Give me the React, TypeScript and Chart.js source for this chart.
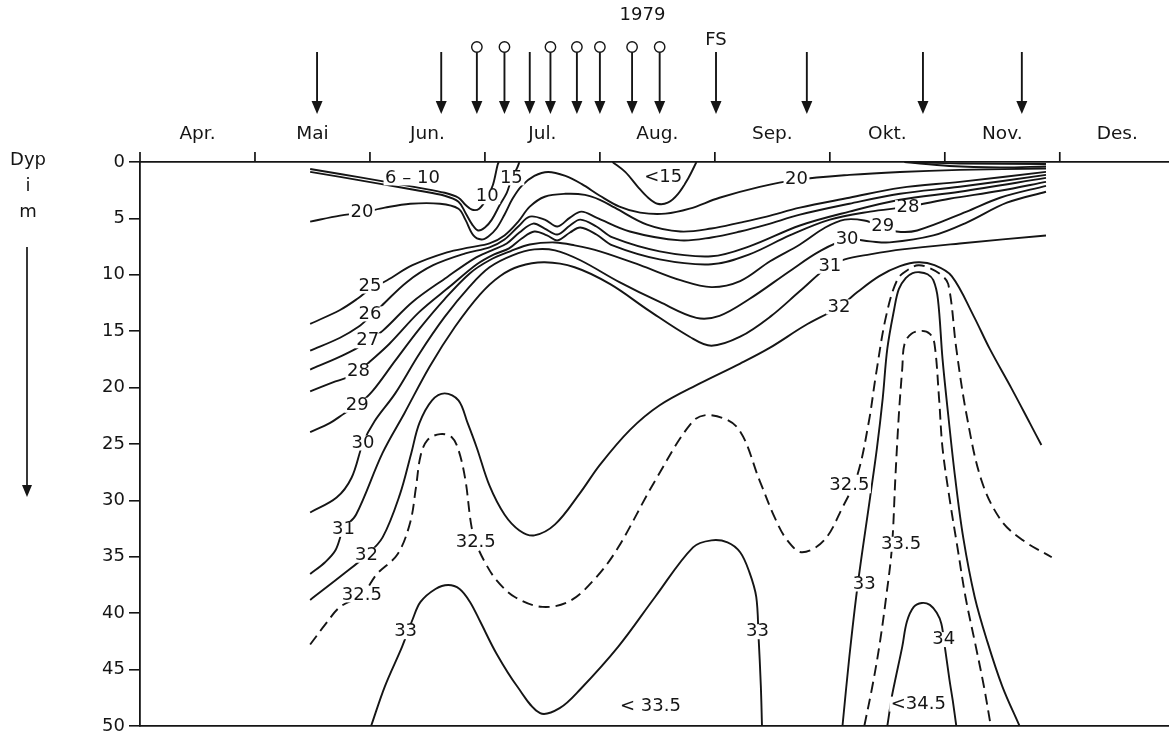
import { useEffect, useRef } from "react";
import { Chart, registerables } from "chart.js";

Chart.register(...registerables);

type Pt = [number, number];

const FONT = '"DejaVu Sans", "Liberation Sans", Arial, sans-serif';
const INK = "#151515";

// x = months after 1 April 1979 (0 = 1 Apr), y = depth in metres
const monthLabels = ["Apr.", "Mai", "Jun.", "Jul.", "Aug.", "Sep.", "Okt.", "Nov.", "Des."];
const monthCenters = [0.5, 1.5, 2.5, 3.5, 4.5, 5.5, 6.5, 7.5, 8.5];
const monthBoundaries = [0, 1, 2, 3, 4, 5, 6, 7, 8];
const xAxisMax = 8.95;
const depthMax = 50;
const depthStep = 5;

// sampling trips (arrows); ring = trips marked with a circle
const plainArrowDates = [1.54, 2.62, 3.39, 5.01, 5.8, 6.81, 7.67];
const ringArrowDates = [2.93, 3.17, 3.57, 3.8, 4.0, 4.28, 4.52];
const fsDate = 5.01;
const yearDate = 4.37;
const yearLabel = "1979";
const yAxisTitle = ["Dyp", "i", "m"];

// salinity isolines (month, depth)
const sal10: Pt[] = [[1.48,0.62],[1.74,1.06],[2.09,1.67],[2.43,2.29],[2.65,2.73],[2.77,3.17],[2.83,3.79],[2.89,4.23],[2.95,4.14],[3.02,3.17],[3.07,2.02],[3.11,0.26],[3.12,0]];
const sal15: Pt[] = [[1.48,0.88],[1.74,1.32],[2.09,1.94],[2.43,2.55],[2.65,2.99],[2.77,3.52],[2.83,4.49],[2.89,5.55],[2.94,6.07],[3.0,5.81],[3.06,5.11],[3.13,3.79],[3.19,2.73],[3.23,1.58],[3.28,0.53],[3.30,0]];
const sal15Pocket: Pt[] = [[4.11,0],[4.22,0.88],[4.33,2.2],[4.42,3.17],[4.5,3.7],[4.59,3.61],[4.68,2.82],[4.77,1.41],[4.84,0]];
const sal10Autumn: Pt[] = [[6.65,0],[7.13,0.13],[7.88,0.18]];
const sal15Autumn: Pt[] = [[6.65,0],[7.04,0.35],[7.48,0.48],[7.88,0.4]];
const sal20: Pt[] = [[1.48,5.28],[1.74,4.75],[1.93,4.49],[2.13,4.05],[2.35,3.7],[2.61,3.7],[2.77,4.14],[2.83,5.11],[2.9,6.51],[2.97,6.87],[3.03,6.6],[3.1,5.9],[3.17,4.67],[3.24,3.26],[3.32,2.11],[3.43,1.23],[3.55,0.88],[3.7,1.23],[3.84,1.94],[4.0,2.99],[4.17,3.96],[4.35,4.49],[4.57,4.58],[4.78,4.14],[5.04,3.17],[5.39,2.2],[5.71,1.58],[6.17,1.14],[6.61,0.88],[7.13,0.7],[7.88,0.57]];
const sal25: Pt[] = [[1.48,14.35],[1.74,13.12],[1.9,12.06],[2.0,11.27],[2.15,10.48],[2.37,9.15],[2.67,8.01],[2.87,7.57],[3.04,7.22],[3.17,6.51],[3.29,5.28],[3.39,3.96],[3.52,3.08],[3.7,2.82],[3.87,2.91],[4.0,3.35],[4.13,4.05],[4.41,5.55],[4.7,6.16],[4.97,5.9],[5.22,5.37],[5.45,4.84],[5.74,4.05],[6.17,3.17],[6.61,2.29],[7.13,1.76],[7.88,0.88]];
const sal26: Pt[] = [[1.48,16.73],[1.74,15.58],[1.9,14.61],[2.0,13.73],[2.1,12.76],[2.32,10.65],[2.55,9.15],[2.83,8.1],[3.04,7.57],[3.17,6.87],[3.29,5.72],[3.39,4.84],[3.52,5.11],[3.63,5.72],[3.74,4.93],[3.84,4.4],[3.97,4.93],[4.26,6.16],[4.7,6.95],[4.97,6.69],[5.22,6.16],[5.45,5.55],[5.74,4.67],[6.17,3.7],[6.61,2.82],[7.13,2.2],[7.88,1.14]];
const sal27: Pt[] = [[1.48,18.4],[1.74,17.25],[1.88,16.55],[1.98,15.85],[2.11,14.97],[2.37,12.41],[2.67,10.21],[2.91,8.54],[3.06,7.83],[3.19,7.22],[3.3,6.25],[3.42,5.46],[3.52,5.9],[3.63,6.43],[3.74,5.63],[3.83,5.11],[3.97,5.72],[4.11,6.69],[4.52,7.92],[4.97,8.36],[5.3,7.48],[5.74,5.63],[6.17,4.4],[6.61,3.35],[7.13,2.64],[7.88,1.41]];
const sal28: Pt[] = [[1.48,20.34],[1.7,19.45],[1.83,19.01],[1.9,18.57],[2.0,17.69],[2.17,16.11],[2.43,13.29],[2.7,11.0],[2.93,9.07],[3.08,8.19],[3.21,7.66],[3.32,6.78],[3.43,6.16],[3.54,6.51],[3.63,6.95],[3.74,6.25],[3.83,5.81],[3.97,6.43],[4.11,7.39],[4.52,8.63],[4.97,9.07],[5.3,8.19],[5.65,6.51],[6.0,5.11],[6.35,4.4],[6.68,3.96],[7.04,3.26],[7.48,2.55],[7.88,1.76]];
const sal29: Pt[] = [[1.48,23.94],[1.65,23.15],[1.78,22.27],[1.89,21.57],[2.02,20.34],[2.22,17.61],[2.43,14.79],[2.65,12.15],[2.87,9.86],[3.04,8.71],[3.22,7.92],[3.39,7.31],[3.61,7.13],[3.78,7.39],[4.0,7.92],[4.35,9.15],[4.7,10.48],[4.97,11.09],[5.22,10.56],[5.48,8.8],[5.74,7.31],[5.96,5.81],[6.13,5.11],[6.3,5.19],[6.46,5.72],[6.58,6.16],[6.76,6.07],[7.19,4.4],[7.48,3.17],[7.88,2.11]];
const sal30: Pt[] = [[1.48,31.07],[1.71,29.75],[1.84,27.99],[1.94,24.91],[2.04,22.98],[2.22,20.51],[2.43,16.99],[2.65,13.73],[2.87,11.0],[3.04,9.33],[3.24,8.27],[3.43,7.75],[3.61,7.83],[3.83,8.71],[4.17,10.65],[4.52,12.41],[4.84,13.82],[5.04,13.64],[5.3,12.15],[5.65,9.68],[5.91,7.92],[6.15,6.87],[6.35,7.04],[6.52,7.13],[6.9,6.51],[7.19,5.37],[7.54,3.61],[7.88,2.64]];
const sal31: Pt[] = [[1.48,36.53],[1.61,35.48],[1.7,34.42],[1.77,32.57],[1.88,31.25],[2.11,25.79],[2.3,22.27],[2.52,18.13],[2.74,14.61],[2.96,11.71],[3.13,10.12],[3.3,9.24],[3.52,8.89],[3.78,9.33],[4.09,10.83],[4.43,13.2],[4.78,15.49],[4.97,16.29],[5.22,15.49],[5.48,13.73],[5.74,11.44],[5.98,9.33],[6.13,8.63],[6.35,8.19],[6.63,7.75],[7.13,7.22],[7.88,6.51]];
const sal32: Pt[] = [[1.48,38.82],[1.77,36.53],[1.97,34.86],[2.11,33.28],[2.26,29.49],[2.36,25.79],[2.43,23.15],[2.54,21.13],[2.65,20.51],[2.77,21.13],[2.85,23.15],[2.93,25.35],[3.04,28.7],[3.17,31.25],[3.3,32.66],[3.43,33.1],[3.61,32.13],[3.83,29.31],[4.0,26.85],[4.26,23.77],[4.52,21.57],[4.87,19.63],[5.22,17.87],[5.48,16.46],[5.78,14.52],[6.08,12.85],[6.24,11.53],[6.43,10.12],[6.61,9.24],[6.77,8.89],[6.91,9.15],[7.06,10.12],[7.25,13.64],[7.39,16.55],[7.58,20.07],[7.74,23.15],[7.84,25.09]];
const sal325: Pt[] = [[1.48,42.78],[1.61,41.02],[1.74,39.44],[1.93,38.38],[2.06,36.53],[2.24,34.77],[2.35,31.95],[2.4,28.87],[2.44,26.06],[2.5,24.65],[2.61,24.12],[2.71,24.38],[2.77,25.53],[2.83,28.17],[2.88,32.13],[2.92,33.72],[3.0,35.48],[3.1,37.06],[3.26,38.56],[3.5,39.44],[3.74,38.91],[3.97,36.8],[4.16,34.16],[4.48,28.26],[4.81,22.98],[4.97,22.45],[5.2,23.59],[5.39,28.26],[5.52,31.51],[5.63,33.54],[5.76,34.6],[5.95,33.54],[6.11,30.63],[6.24,27.73],[6.34,22.98],[6.4,18.93],[6.49,13.64],[6.59,10.39],[6.7,9.42],[6.77,9.15],[6.85,9.33],[6.96,9.95],[7.03,10.83],[7.1,16.55],[7.19,22.45],[7.32,28.26],[7.49,31.78],[7.68,33.54],[7.93,35.04]];
const sal33Summer: Pt[] = [[2.01,50],[2.13,46.48],[2.28,42.96],[2.37,40.58],[2.44,39.0],[2.57,37.85],[2.68,37.5],[2.78,37.85],[2.87,39.0],[2.96,40.76],[3.1,43.57],[3.28,46.48],[3.48,48.86],[3.65,48.42],[3.83,46.74],[4.16,42.96],[4.48,38.56],[4.81,34.16],[4.97,33.54],[5.11,33.72],[5.22,34.6],[5.3,36.36],[5.36,38.56],[5.38,42.08],[5.4,46.48],[5.41,50]];
const sal33Autumn: Pt[] = [[6.11,50],[6.17,43.84],[6.24,37.68],[6.35,29.75],[6.41,25.35],[6.46,20.95],[6.5,16.55],[6.56,13.03],[6.6,11.27],[6.66,10.3],[6.72,9.86],[6.78,9.77],[6.85,9.95],[6.9,10.48],[6.94,12.15],[6.98,17.43],[7.03,22.45],[7.09,27.99],[7.16,33.28],[7.26,38.56],[7.37,42.52],[7.5,46.48],[7.65,50]];
const sal335: Pt[] = [[6.3,50],[6.37,46.48],[6.43,42.96],[6.49,38.56],[6.54,34.16],[6.57,27.99],[6.6,22.45],[6.63,18.31],[6.65,16.11],[6.71,15.23],[6.8,14.97],[6.87,15.23],[6.91,16.11],[6.95,20.95],[6.98,25.35],[7.04,29.75],[7.11,34.16],[7.18,38.56],[7.27,42.96],[7.34,46.48],[7.4,50]];
const sal34: Pt[] = [[6.5,50],[6.54,47.36],[6.57,45.86],[6.63,42.96],[6.67,40.76],[6.73,39.44],[6.8,39.09],[6.87,39.26],[6.93,39.97],[6.97,40.93],[7.0,42.96],[7.04,45.86],[7.07,47.8],[7.1,50]];

const solidLines: Pt[][] = [sal10, sal15, sal15Pocket, sal10Autumn, sal15Autumn, sal20, sal25, sal26, sal27, sal28, sal29, sal30, sal31, sal32, sal33Summer, sal33Autumn, sal34];
const dashedLines: Pt[][] = [sal325, sal335];

// isoline labels: text, month, depth
const contourLabels: [string, number, number][] = [
  ["6 – 10", 2.37, 1.41],
  ["10", 3.02, 3.08],
  ["15", 3.23, 1.41],
  ["<15", 4.55, 1.32],
  ["20", 1.93, 4.49],
  ["20", 5.71, 1.58],
  ["25", 2.0, 11.0],
  ["26", 2.0, 13.47],
  ["27", 1.98, 15.85],
  ["28", 1.9, 18.57],
  ["29", 1.89, 21.57],
  ["30", 1.94, 24.91],
  ["31", 1.77, 32.57],
  ["32", 1.97, 34.86],
  ["32.5", 1.93, 38.38],
  ["33", 2.31, 41.64],
  ["32.5", 2.92, 33.72],
  ["< 33.5", 4.44, 48.24],
  ["33", 5.37, 41.64],
  ["28", 6.68, 4.05],
  ["29", 6.46, 5.72],
  ["30", 6.15, 6.87],
  ["31", 6.0, 9.24],
  ["32", 6.08, 12.85],
  ["32.5", 6.17, 28.7],
  ["33", 6.3, 37.41],
  ["33.5", 6.62, 33.89],
  ["34", 6.99, 42.34],
  ["<34.5", 6.77, 48.06],
];

export default function App() {
  const ref = useRef<HTMLCanvasElement>(null);

  useEffect(() => {
    document.body.style.margin = "0";
    const canvas = ref.current;
    if (!canvas) return;

    const toXY = (pts: Pt[]) => pts.map(([x, y]) => ({ x, y }));
    const datasets: any[] = [
      ...solidLines.map((pts) => ({ data: toXY(pts), borderDash: [] })),
      ...dashedLines.map((pts) => ({ data: toXY(pts), borderDash: [11, 6] })),
    ].map((d) => ({
      ...d,
      borderColor: INK,
      borderWidth: 1.9,
      pointRadius: 0,
      tension: 0.35,
      fill: false,
    }));

    const decor = {
      id: "decor",
      afterDatasetsDraw(chart: any) {
        const { ctx, scales } = chart;
        ctx.save();
        ctx.font = `18px ${FONT}`;
        ctx.textAlign = "center";
        ctx.textBaseline = "middle";
        for (const [text, m, d] of contourLabels) {
          const px = scales.x.getPixelForValue(m);
          const py = scales.y.getPixelForValue(d);
          const w = ctx.measureText(text).width;
          ctx.fillStyle = "#fff";
          ctx.fillRect(px - w / 2 - 1.5, py - 7.5, w + 3, 15);
          ctx.fillStyle = INK;
          ctx.fillText(text, px, py);
        }
        ctx.restore();
      },
      afterDraw(chart: any) {
        const { ctx, chartArea, scales } = chart;
        const xs = scales.x;
        const top = chartArea.top;
        ctx.save();
        ctx.strokeStyle = INK;
        ctx.fillStyle = INK;
        // month boundary ticks
        ctx.lineWidth = 1.7;
        ctx.beginPath();
        for (const b of monthBoundaries) {
          const px = xs.getPixelForValue(b);
          ctx.moveTo(px, top - 10);
          ctx.lineTo(px, top);
        }
        ctx.stroke();
        // sampling arrows
        const arrow = (v: number, ring: boolean) => {
          const px = xs.getPixelForValue(v);
          ctx.lineWidth = 1.9;
          ctx.beginPath();
          ctx.moveTo(px, top - 110);
          ctx.lineTo(px, top - 58);
          ctx.stroke();
          ctx.beginPath();
          ctx.moveTo(px - 5.5, top - 61);
          ctx.lineTo(px + 5.5, top - 61);
          ctx.lineTo(px, top - 48);
          ctx.closePath();
          ctx.fill();
          if (ring) {
            ctx.lineWidth = 1.4;
            ctx.beginPath();
            ctx.arc(px, top - 115, 5.2, 0, Math.PI * 2);
            ctx.fillStyle = "#fff";
            ctx.fill();
            ctx.stroke();
            ctx.fillStyle = INK;
          }
        };
        plainArrowDates.forEach((v) => arrow(v, false));
        ringArrowDates.forEach((v) => arrow(v, true));
        // texts
        ctx.font = `18px ${FONT}`;
        ctx.textAlign = "center";
        ctx.textBaseline = "middle";
        ctx.fillText(yearLabel, xs.getPixelForValue(yearDate), 15);
        ctx.fillText("FS", xs.getPixelForValue(fsDate), 40);
        ctx.fillText(yAxisTitle[0], 28, 160);
        ctx.fillText(yAxisTitle[1], 28, 186);
        ctx.fillText(yAxisTitle[2], 28, 212);
        // depth arrow
        ctx.lineWidth = 1.7;
        ctx.beginPath();
        ctx.moveTo(27, 247);
        ctx.lineTo(27, 488);
        ctx.stroke();
        ctx.beginPath();
        ctx.moveTo(22, 485);
        ctx.lineTo(32, 485);
        ctx.lineTo(27, 497);
        ctx.closePath();
        ctx.fill();
        ctx.restore();
      },
    };

    const chart = new Chart(canvas, {
      type: "line",
      data: { datasets },
      options: {
        animation: false,
        responsive: false,
        events: [],
        layout: { padding: 0 },
        plugins: { legend: { display: false }, tooltip: { enabled: false } },
        scales: {
          x: {
            type: "linear",
            position: "top",
            min: 0,
            max: xAxisMax,
            afterBuildTicks: (axis: any) => {
              axis.ticks = monthCenters.map((v) => ({ value: v }));
            },
            afterFit: (axis: any) => {
              axis.height = 162;
            },
            ticks: {
              callback: (_v: any, i: number) => monthLabels[i],
              font: { family: FONT, size: 18.5, lineHeight: 1.2 },
              color: INK,
              padding: 9,
              maxRotation: 0,
              autoSkip: false,
            },
            grid: { display: false },
            border: { display: true, color: INK, width: 1.8 },
          },
          xb: {
            type: "linear",
            position: "bottom",
            min: 0,
            max: xAxisMax,
            afterFit: (axis: any) => {
              axis.height = 9;
            },
            ticks: { display: false },
            grid: { display: false },
            border: { display: true, color: INK, width: 1.8 },
          },
          y: {
            type: "linear",
            position: "left",
            reverse: true,
            min: 0,
            max: depthMax,
            afterFit: (axis: any) => {
              axis.width = 140;
            },
            ticks: {
              stepSize: depthStep,
              font: { family: FONT, size: 18, lineHeight: 1 },
              color: INK,
              padding: 4,
            },
            grid: { drawOnChartArea: false, tickLength: 11, color: INK, lineWidth: 1.6 },
            border: { display: true, color: INK, width: 1.8 },
          },
        },
      } as any,
      plugins: [decor],
    });

    return () => chart.destroy();
  }, []);

  return (
    <div style={{ position: "fixed", left: 0, top: 0, width: 1169, height: 739, background: "#fff" }}>
      <canvas ref={ref} width={1169} height={739} style={{ display: "block", width: 1169, height: 739 }} />
    </div>
  );
}
